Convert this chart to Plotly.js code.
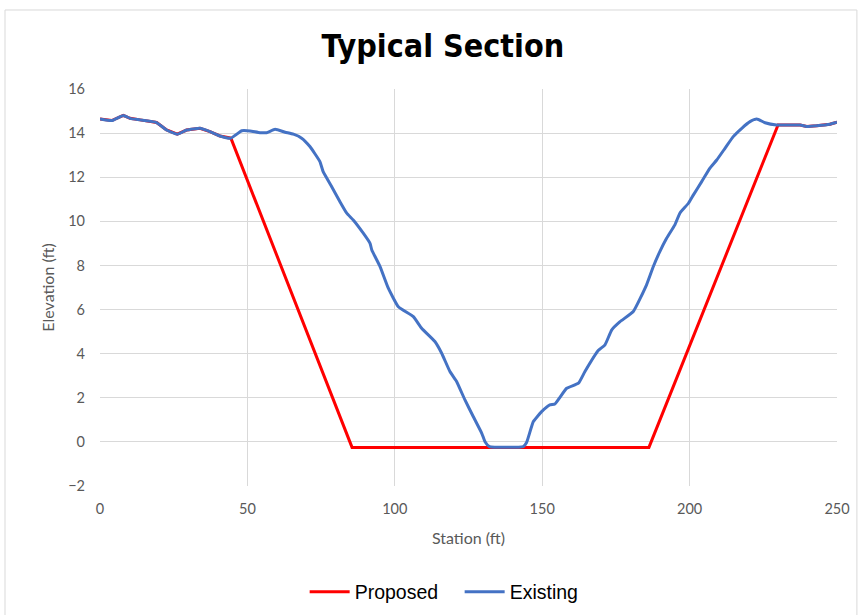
<!DOCTYPE html>
<html><head><meta charset="utf-8">
<script src="https://cdn.plot.ly/plotly-3.0.1.min.js"></script>
<style>html,body{margin:0;padding:0;background:#fff;}#chart{width:860px;height:615px;}</style>
</head><body><div id="chart"></div>
<script>
const existingStation = [0,4,7.9,10.2,13.6,19.2,22.6,26.2,29.4,33.9,37.3,40.7,44.4,48.1,50.9,54.3,56.5,59.4,62.8,65.6,68.4,71.2,74.6,75.7,78.6,81.4,83.7,85.9,89.3,91.6,92.2,95.0,97.8,101.2,106.3,109.1,113.6,115.9,118.7,121.0,123.8,126.6,129.5,130.6,132.1,143.6,144.7,147.0,149.8,152.6,154.3,158.3,162.3,164.5,169.0,171.3,173.6,176.4,180.9,185.4,187.7,189.9,192.2,195.0,196.7,199.6,201.3,204.1,206.9,209.2,212.0,214.8,217.7,220.5,222.8,225.6,229.5,237.5,239.7,243.1,247.6,250];
const existingElev = [14.64,14.57,14.8,14.67,14.6,14.48,14.14,13.95,14.14,14.22,14.07,13.87,13.77,14.11,14.1,14.02,14.02,14.17,14.04,13.95,13.77,13.39,12.71,12.25,11.57,10.89,10.37,10.06,9.46,9.0,8.7,7.95,6.97,6.13,5.68,5.15,4.55,4.02,3.19,2.73,1.9,1.15,0.39,0.01,-0.21,-0.21,-0.03,0.92,1.37,1.68,1.72,2.43,2.66,3.19,4.14,4.4,5.08,5.45,5.91,7.12,7.95,8.63,9.23,9.84,10.37,10.82,11.2,11.8,12.41,12.78,13.31,13.84,14.22,14.52,14.64,14.47,14.37,14.37,14.3,14.33,14.4,14.49];
const proposedStation = [0,4,7.9,10.2,13.6,19.2,22.6,26.2,29.4,33.9,37.3,40.7,44.4,85.5,186.2,230.0,237.5,239.7,243.1,247.6,250];
const proposedElev = [14.64,14.57,14.8,14.67,14.6,14.48,14.14,13.95,14.14,14.22,14.07,13.87,13.77,-0.25,-0.25,14.37,14.37,14.3,14.33,14.4,14.49];
const xTicks = [0,50,100,150,200,250];
const yTicks = [-2,0,2,4,6,8,10,12,14,16];

const traces = [
  {x: proposedStation, y: proposedElev, name: 'Proposed', type: 'scatter', mode: 'lines',
   line: {color: '#ff0000', width: 3}},
  {x: existingStation, y: existingElev, name: 'Existing', type: 'scatter', mode: 'lines',
   line: {color: '#4472c4', width: 3, shape: 'spline', smoothing: 0.4}}
];
const layout = {
  width: 860, height: 615,
  margin: {l: 100, r: 23, t: 89, b: 129, autoexpand: false},
  paper_bgcolor: '#ffffff', plot_bgcolor: '#ffffff',
  title: {text: '<b>Typical Section</b>', x: 0.515, xanchor: 'center', y: 0.925, yanchor: 'middle',
          font: {family: 'DejaVu Sans Condensed, DejaVu Sans, sans-serif', size: 32, color: '#000000', weight: 900}},
  xaxis: {range: [0, 250], tickvals: xTicks, showgrid: true, gridcolor: '#d9d9d9', gridwidth: 1,
          zeroline: false, showline: false, ticks: '', ticklabelstandoff: 12, automargin: false,
          tickfont: {family: 'Lato, sans-serif', size: 14.5, color: '#595959'},
          title: {text: 'Station (ft)', font: {family: 'Lato, sans-serif', size: 16, color: '#595959'}, standoff: 17}},
  yaxis: {range: [-2, 16], tickvals: yTicks, showgrid: true, gridcolor: '#d9d9d9', gridwidth: 1,
          zeroline: false, showline: false, ticks: '', ticklabelstandoff: 14, automargin: false,
          tickfont: {family: 'Lato, sans-serif', size: 14.5, color: '#595959'},
          title: {text: 'Elevation (ft)', font: {family: 'Lato, sans-serif', size: 16, color: '#595959'}, standoff: 9}},
  legend: {orientation: 'h', x: 0.488, xanchor: 'center', y: -0.267, yanchor: 'middle',
           entrywidth: 100, entrywidthmode: 'pixels', itemwidth: 40,
           font: {family: 'Liberation Sans, Arial, sans-serif', size: 19.5, color: '#000000'}},
  shapes: [{type: 'rect', xref: 'paper', yref: 'paper', x0: -0.1289, x1: 1.027, y0: -0.33, y1: 1.199,
            line: {color: '#d9d9d9', width: 1}, fillcolor: 'rgba(0,0,0,0)', layer: 'below'}],
  showlegend: true
};
Plotly.newPlot('chart', traces, layout, {displayModeBar: false, staticPlot: true});
</script></body></html>
